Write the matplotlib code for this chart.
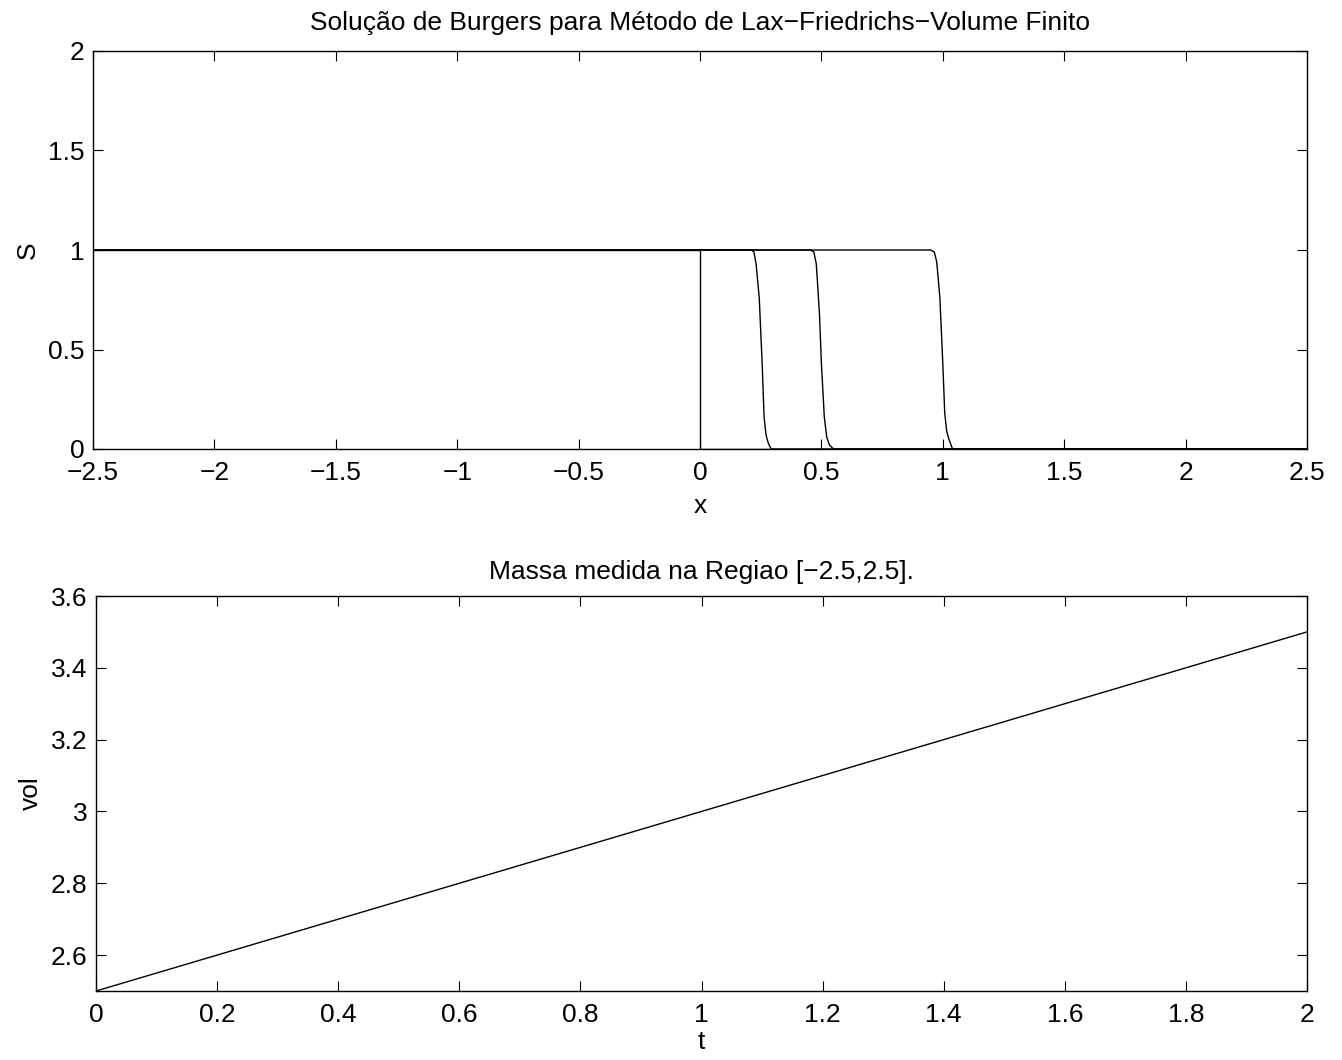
import matplotlib
matplotlib.use("Agg")
from matplotlib import pyplot as plt
import numpy as np

plt.rcParams['font.family'] = ['Liberation Sans', 'DejaVu Sans']
plt.rcParams['font.size'] = 19
plt.rcParams['axes.unicode_minus'] = True

# perfis de S(x) em varios instantes (Lax-Friedrichs, volume finito)
x_t0 = [-2.5, 0.0, 0.0, 2.5]
s_t0 = [1.0, 1.0, 0.0, 0.0]

x_t1 = [-2.5, 0.212, 0.222, 0.231, 0.244, 0.256, 0.264, 0.272, 0.281, 0.293, 2.5]
s_t1 = [1.0, 1.0, 0.99, 0.93, 0.76, 0.43, 0.16, 0.07, 0.03, 0.0, 0.0]

x_t2 = [-2.5, 0.455, 0.469, 0.479, 0.492, 0.500, 0.512, 0.522, 0.533, 0.550, 2.5]
s_t2 = [1.0, 1.0, 0.99, 0.93, 0.68, 0.43, 0.16, 0.06, 0.02, 0.0, 0.0]

x_t3 = [-2.5, 0.950, 0.965, 0.975, 0.988, 1.000, 1.008, 1.016, 1.025, 1.040, 2.5]
s_t3 = [1.0, 1.0, 0.99, 0.94, 0.76, 0.43, 0.18, 0.09, 0.05, 0.0, 0.0]

# massa na regiao [-2.5,2.5] ao longo do tempo
t_vals = [0.0, 0.5, 1.0, 1.5, 2.0]
vol_vals = [2.5, 2.75, 3.0, 3.25, 3.5]

xticks_top = np.arange(-2.5, 2.51, 0.5)
yticks_top = [0, 0.5, 1, 1.5, 2]
xticks_bot = np.arange(0, 2.01, 0.2)
yticks_bot = [2.6, 2.8, 3.0, 3.2, 3.4, 3.6]


def fmt(v):
    s = ('%g' % round(v, 4))
    return s.replace('-', '\u2212')


def matlab_axes(ax):
    ax.tick_params(axis='both', direction='in', length=7, width=0.8,
                   top=True, right=True, labelsize=19)
    ax.tick_params(axis='x', pad=9)
    ax.tick_params(axis='y', pad=6)
    for sp in ax.spines.values():
        sp.set_linewidth(1.0)


fig = plt.figure(figsize=(13.42, 10.60), dpi=100)
W, H = 1342.0, 1060.0

ax1 = fig.add_axes([93 / W, 1 - 449 / H, (1307 - 93) / W, (449 - 51) / H])
for xs, ss in [(x_t0, s_t0), (x_t1, s_t1), (x_t2, s_t2), (x_t3, s_t3)]:
    ax1.plot(xs, ss, color='black', linewidth=1.0)
ax1.set_xlim(-2.5, 2.5)
ax1.set_ylim(0, 2)
ax1.set_xticks(xticks_top)
ax1.set_xticklabels([fmt(v) for v in xticks_top])
ax1.set_yticks(yticks_top)
ax1.set_yticklabels([fmt(v) for v in yticks_top])
ax1.set_xlabel('x', labelpad=6)
ax1.set_ylabel('S', labelpad=6)
ax1.set_title('Solução de Burgers para Método de Lax\u2212Friedrichs\u2212Volume Finito',
              fontsize=19, pad=15)
matlab_axes(ax1)

ax2 = fig.add_axes([96 / W, 1 - 991 / H, (1307 - 96) / W, (991 - 596) / H])
ax2.plot(t_vals, vol_vals, color='black', linewidth=1.0)
ax2.set_xlim(0, 2)
ax2.set_ylim(2.5, 3.6)
ax2.set_xticks(xticks_bot)
ax2.set_xticklabels([fmt(v) for v in xticks_bot])
ax2.set_yticks(yticks_bot)
ax2.set_yticklabels([fmt(v) for v in yticks_bot])
ax2.set_xlabel('t', labelpad=2)
ax2.set_ylabel('vol', labelpad=6)
ax2.set_title('Massa medida na Regiao [\u22122.5,2.5].', fontsize=19, pad=12)
matlab_axes(ax2)

fig.savefig('out.png', dpi=100)
